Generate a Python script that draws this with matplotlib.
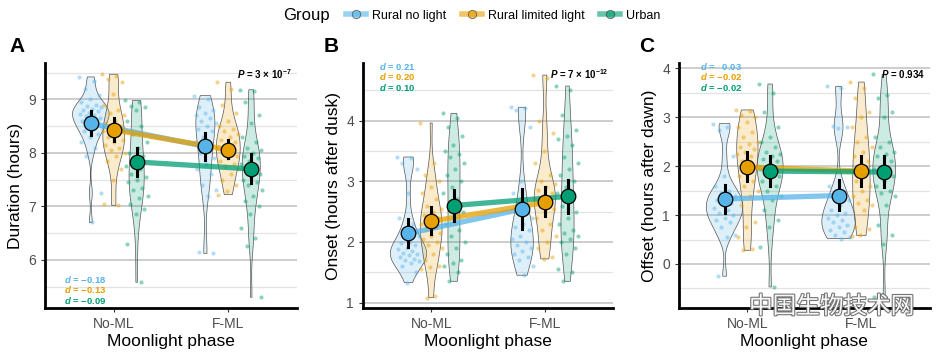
import numpy as np
import matplotlib
matplotlib.use("Agg")
import matplotlib.pyplot as plt
from matplotlib.lines import Line2D
import matplotlib.patheffects as pe

plt.rcParams['font.family'] = ['Liberation Sans', 'DejaVu Sans']
plt.rcParams['mathtext.fontset'] = 'custom'
plt.rcParams['mathtext.rm'] = 'Liberation Sans:bold'
plt.rcParams['mathtext.it'] = 'Liberation Sans:italic:bold'
plt.rcParams['mathtext.bf'] = 'Liberation Sans:bold'

groups = ["Rural no light", "Rural limited light", "Urban"]
colors = ["#56B4E9", "#E69F00", "#009E73"]
phases = ["No-ML", "F-ML"]

# --- Duration (hours) ---
dur_noml_blue = [9.42, 9.35, 9.2, 9.08, 9.0, 8.95, 8.9, 8.88, 8.85, 8.82, 8.8, 8.78, 8.75, 8.72, 8.7,
                 8.68, 8.65, 8.62, 8.6, 8.55, 8.5, 8.48, 8.45, 8.4, 8.35, 8.3, 8.2, 8.1, 7.95, 7.25, 6.7]
dur_noml_orange = [9.47, 9.43, 9.38, 9.33, 9.1, 8.9, 8.8, 8.75, 8.7, 8.6, 8.55, 8.5, 8.45, 8.4, 8.35,
                   8.3, 8.25, 8.2, 8.15, 8.1, 8.05, 8.0, 7.95, 7.85, 7.7, 7.5, 7.05, 7.02]
dur_noml_green = [8.98, 8.95, 8.88, 8.85, 8.8, 8.6, 8.5, 8.35, 8.2, 8.1, 8.0, 7.95, 7.85, 7.75, 7.7,
                  7.6, 7.55, 7.5, 7.45, 7.35, 7.3, 7.2, 7.15, 7.05, 6.95, 6.85, 6.3, 5.58]
dur_fml_blue = [9.07, 9.0, 8.85, 8.8, 8.75, 8.7, 8.65, 8.6, 8.55, 8.5, 8.45, 8.4, 8.3, 8.2, 8.1,
                8.0, 7.9, 7.8, 7.7, 7.6, 7.4, 7.3, 7.2, 6.15, 6.12]
dur_fml_orange = [9.32, 9.2, 8.9, 8.75, 8.6, 8.5, 8.45, 8.4, 8.35, 8.3, 8.25, 8.2, 8.15, 8.1, 8.05,
                  8.0, 7.95, 7.9, 7.85, 7.8, 7.75, 7.7, 7.6, 7.5, 7.4, 7.28, 7.22]
dur_fml_green = [9.18, 9.15, 8.95, 8.7, 8.55, 8.3, 8.2, 8.1, 8.05, 8.0, 7.95, 7.9, 7.85, 7.8, 7.75,
                 7.7, 7.6, 7.55, 7.5, 7.45, 7.4, 7.3, 7.2, 7.1, 7.0, 6.85, 6.6, 6.4, 6.25, 5.3]
dur_mean = [[8.55, 8.12], [8.43, 8.06], [7.83, 7.70]]
dur_lo = [[8.33, 7.87], [8.22, 7.90], [7.57, 7.43]]
dur_hi = [[8.78, 8.38], [8.65, 8.25], [8.10, 7.97]]
dur_d = ["−0.18", "−0.13", "−0.09"]

# --- Onset (hours after dusk) ---
on_noml_blue = [3.4, 3.38, 3.3, 3.2, 2.8, 2.4, 2.3, 2.2, 2.1, 2.0, 1.98, 1.95, 1.9, 1.88, 1.85,
                1.82, 1.8, 1.78, 1.75, 1.72, 1.7, 1.68, 1.65, 1.6, 1.5, 1.33]
on_noml_orange = [3.96, 3.3, 3.1, 3.0, 2.9, 2.8, 2.7, 2.6, 2.55, 2.5, 2.45, 2.4, 2.35, 2.3, 2.25,
                  2.2, 2.15, 2.1, 2.05, 2.0, 1.95, 1.9, 1.8, 1.7, 1.6, 1.58, 1.55, 1.1, 1.08]
on_noml_green = [4.12, 4.05, 3.9, 3.75, 3.6, 3.5, 3.45, 3.4, 3.3, 3.2, 3.1, 3.0, 2.9, 2.8, 2.7,
                 2.6, 2.5, 2.4, 2.3, 2.2, 2.1, 2.0, 1.9, 1.8, 1.7, 1.65, 1.6, 1.5, 1.35]
on_fml_blue = [4.22, 4.2, 4.18, 3.9, 3.0, 2.8, 2.6, 2.5, 2.4, 2.3, 2.25, 2.2, 2.1, 2.05, 2.0,
               1.95, 1.9, 1.85, 1.8, 1.75, 1.7, 1.6, 1.45]
on_fml_orange = [4.75, 4.7, 4.0, 3.8, 3.5, 3.3, 3.1, 3.0, 2.95, 2.9, 2.85, 2.8, 2.75, 2.7, 2.65,
                 2.6, 2.55, 2.5, 2.4, 2.3, 2.2, 2.1, 2.0, 1.9, 1.75, 1.72]
on_fml_green = [4.57, 4.5, 4.1, 3.85, 3.75, 3.7, 3.6, 3.4, 3.3, 3.2, 3.1, 3.0, 2.9, 2.8, 2.7,
                2.6, 2.5, 2.4, 2.3, 2.2, 2.15, 2.1, 2.05, 2.0, 1.9, 1.8, 1.55, 1.5, 1.35]
on_mean = [[2.14, 2.54], [2.34, 2.65], [2.60, 2.75]]
on_lo = [[1.92, 2.22], [2.13, 2.42], [2.34, 2.48]]
on_hi = [[2.38, 2.87], [2.57, 2.90], [2.86, 3.02]]
on_d = ["0.21", "0.20", "0.10"]

# --- Offset (hours after dawn) ---
off_noml_blue = [2.87, 2.8, 2.75, 2.2, 1.8, 1.6, 1.5, 1.45, 1.4, 1.35, 1.3, 1.25, 1.2, 1.15, 1.1,
                 1.05, 1.0, 0.95, 0.9, 0.85, 0.75, 0.6, 0.55, -0.25]
off_noml_orange = [3.15, 3.12, 3.05, 3.0, 2.9, 2.8, 2.7, 2.6, 2.5, 2.45, 2.4, 2.35, 2.3, 2.25, 2.2,
                   2.1, 2.0, 1.9, 1.8, 1.7, 1.6, 1.5, 1.4, 1.2, 0.85, 0.75, 0.55, 0.3, 0.28]
off_noml_green = [3.68, 3.5, 3.1, 2.8, 2.6, 2.5, 2.4, 2.3, 2.25, 2.2, 2.15, 2.1, 2.0, 1.95, 1.9,
                  1.85, 1.8, 1.75, 1.7, 1.6, 1.5, 1.4, 1.3, 1.1, 0.9, 0.75, 0.35, -0.47]
off_fml_blue = [3.63, 3.6, 2.82, 2.8, 2.78, 1.6, 1.5, 1.4, 1.3, 1.2, 1.1, 1.05, 1.0, 0.95, 0.9,
                0.85, 0.8, 0.75, 0.7, 0.65, 0.6, 0.55, 0.52]
off_fml_orange = [3.72, 3.6, 3.4, 3.1, 3.0, 2.8, 2.6, 2.5, 2.4, 2.3, 2.2, 2.1, 2.0, 1.9, 1.8,
                  1.7, 1.6, 1.5, 1.4, 1.3, 1.25, 1.2, 1.1, 0.75, 0.72, 0.6, 0.58]
off_fml_green = [3.88, 3.45, 3.4, 3.1, 3.0, 2.6, 2.5, 2.4, 2.3, 2.25, 2.2, 2.1, 2.0, 1.95, 1.9,
                 1.85, 1.8, 1.7, 1.6, 1.5, 1.45, 1.4, 1.2, 0.8, 0.6, 0.4, -0.68]
off_mean = [[1.33, 1.40], [1.98, 1.90], [1.90, 1.88]]
off_lo = [[1.05, 1.10], [1.70, 1.60], [1.60, 1.57]]
off_hi = [[1.62, 1.72], [2.28, 2.20], [2.20, 2.20]]
off_d = ["  0.03", "−0.02", "−0.02"]


def kde(vals, grid):
    vals = np.asarray(vals)
    n = len(vals)
    sd = vals.std(ddof=1)
    iqr = np.subtract(*np.percentile(vals, [75, 25]))
    bw = 0.9 * min(sd, iqr / 1.34) * n ** -0.2
    z = (grid[:, None] - vals[None, :]) / bw
    return np.exp(-0.5 * z ** 2).sum(1) / (n * bw * np.sqrt(2 * np.pi))


def draw_panel(ax, data, means, lo, hi, ylim, yticks, ylabel):
    dodge = [-0.2, 0.0, 0.2]
    # violins, scaled by area (same scale for all in the panel)
    dens = {}
    for (g, p), vals in data.items():
        grid = np.linspace(min(vals), max(vals), 200)
        dens[(g, p)] = (grid, kde(vals, grid))
    scale = 0.16 / max(d.max() for _, d in dens.values())
    for (g, p), (grid, d) in dens.items():
        x0 = p + 1 + dodge[g]
        ax.fill_betweenx(grid, x0 - d * scale, x0 + d * scale, facecolor=colors[g], alpha=0.2,
                         edgecolor='none', zorder=2)
        ax.fill_betweenx(grid, x0 - d * scale, x0 + d * scale, facecolor='none',
                         edgecolor='#555555', lw=0.5, zorder=2)
        vals = np.asarray(data[(g, p)])
        jit = ((np.arange(len(vals)) * 0.618034) % 1 - 0.5) * 0.2
        ax.scatter(x0 + jit, vals, s=9, color=colors[g], alpha=0.45, lw=0, zorder=3)
    for g in range(3):
        xs = [1 + dodge[g], 2 + dodge[g]]
        ax.plot(xs, means[g], color=colors[g], lw=3.8, alpha=0.75, zorder=4, solid_capstyle='butt')
    for g in range(3):
        for p in range(2):
            x0 = p + 1 + dodge[g]
            ax.plot([x0, x0], [lo[g][p], hi[g][p]], color='black', lw=2.2, zorder=5)
            ax.plot(x0, means[g][p], 'o', ms=10.5, mfc=colors[g], mec='black', mew=0.9, zorder=6)

    ax.set_xlim(0.4, 2.6)
    ax.set_ylim(*ylim)
    ax.set_xticks([1, 2])
    ax.set_xticklabels(phases)
    ax.set_yticks(yticks)
    minor = [t + 0.5 for t in range(int(np.floor(ylim[0])) - 1, int(np.ceil(ylim[1])) + 1)]
    minor = [m for m in minor if ylim[0] < m < ylim[1]]
    ax.set_yticks(minor, minor=True)
    ax.grid(axis='y', which='major', color='#c9c9c9', lw=1.3, zorder=0)
    ax.grid(axis='y', which='minor', color='#e3e3e3', lw=0.9, zorder=0)
    ax.set_axisbelow(True)
    ax.tick_params(axis='both', which='major', labelsize=10, colors='#333333', labelcolor='#4d4d4d',
                   length=3, width=0.8)
    ax.tick_params(axis='y', which='minor', length=0)
    for s in ['top', 'right']:
        ax.spines[s].set_visible(False)
    for s in ['left', 'bottom']:
        ax.spines[s].set_linewidth(2.0)
        ax.spines[s].set_color('black')
    ax.set_xlabel("Moonlight phase", fontsize=12.5, labelpad=2)
    ax.set_ylabel(ylabel, fontsize=12.5, labelpad=4)


def pack(nb, no, ng, fb, fo, fg):
    return {(0, 0): nb, (1, 0): no, (2, 0): ng, (0, 1): fb, (1, 1): fo, (2, 1): fg}


fig = plt.figure(figsize=(9.43, 3.52), dpi=100)
bottom, top = 0.125, 0.821
axA = fig.add_axes([0.0477, bottom, 0.315 - 0.0477, top - bottom])
axB = fig.add_axes([0.385, bottom, 0.650 - 0.385, top - bottom])
axC = fig.add_axes([0.720, bottom, 0.986 - 0.720, top - bottom])

draw_panel(axA, pack(dur_noml_blue, dur_noml_orange, dur_noml_green, dur_fml_blue, dur_fml_orange, dur_fml_green),
           dur_mean, dur_lo, dur_hi, (5.1, 9.68), [6, 7, 8, 9], "Duration (hours)")
draw_panel(axB, pack(on_noml_blue, on_noml_orange, on_noml_green, on_fml_blue, on_fml_orange, on_fml_green),
           on_mean, on_lo, on_hi, (0.91, 4.95), [1, 2, 3, 4], "Onset (hours after dusk)")
draw_panel(axC, pack(off_noml_blue, off_noml_orange, off_noml_green, off_fml_blue, off_fml_orange, off_fml_green),
           off_mean, off_lo, off_hi, (-0.9, 4.11), [0, 1, 2, 3, 4], "Offset (hours after dawn)")

# P values
axA.text(0.98, 0.955, r"$P$ = 3 × 10$^{-7}$", transform=axA.transAxes, ha='right', va='center',
         fontsize=7, fontweight='bold')
axB.text(0.98, 0.955, r"$P$ = 7 × 10$^{-12}$", transform=axB.transAxes, ha='right', va='center',
         fontsize=7, fontweight='bold')
axC.text(0.98, 0.955, r"$P$ = 0.934", transform=axC.transAxes, ha='right', va='center',
         fontsize=7, fontweight='bold')

# effect sizes
step = 0.042
for ax, dvals, y0, x0 in [(axA, dur_d, 0.032 + 2 * step, 0.075),
                          (axB, on_d, 0.985, 0.064),
                          (axC, off_d, 0.985, 0.084)]:
    for g in range(3):
        ax.text(x0, y0 - g * step, r"$d$ = " + dvals[g], transform=ax.transAxes, ha='left',
                va='center', fontsize=6.8, fontweight='bold', color=colors[g])

# panel letters
for x, lab in [(0.010, "A"), (0.343, "B"), (0.678, "C")]:
    fig.text(x, 0.868, lab, fontsize=15, fontweight='bold', ha='left', va='center')

# legend
fig.text(0.300, 0.955, "Group", fontsize=12, ha='left', va='center')
handles = [Line2D([0], [0], color=c, lw=4, alpha=0.6, marker='o', ms=6, mfc=c, mec='#333333', mew=0.7)
           for c in colors]
fig.legend(handles, groups, loc='center left', bbox_to_anchor=(0.355, 0.955), ncol=3, frameon=False,
           fontsize=9, handlelength=1.6, columnspacing=1.2, handletextpad=0.5)

# watermark
fig.text(0.882, 0.128, "中国生物技术网", fontsize=17, ha='center', va='center',
         family=['Noto Sans CJK SC', 'DejaVu Sans'], color='white', alpha=0.95, zorder=20,
         path_effects=[pe.withStroke(linewidth=1.6, foreground='#6e6e6e')])

fig.savefig("out.png", dpi=100)
